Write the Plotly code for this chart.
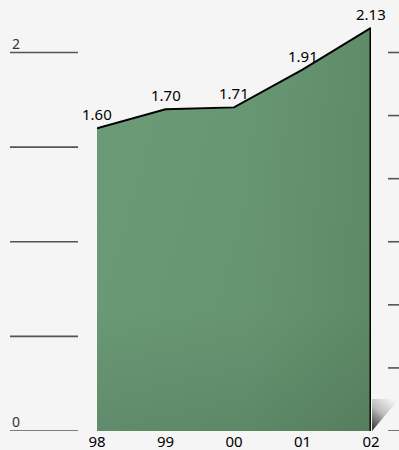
import base64
import plotly.graph_objects as go

# Series
years = ["98", "99", "00", "01", "02"]
values = [1.60, 1.70, 1.71, 1.91, 2.13]

# Left guide lines (value axis) and their labels
left_grid = [0, 0.5, 1.0, 1.5, 2.0]
left_labels = {0: "0", 2.0: "2"}
# Right-hand tick marks
right_ticks = [0, 1 / 3, 2 / 3, 1.0, 4 / 3, 5 / 3, 2.0]

BG = "#f5f5f5"
W, H = 399, 450
M_L, M_R, M_T, M_B = 97, 28, 14, 19
PLOT_H = H - M_T - M_B
PX_PER_UNIT = 189.25
Y_MAX = PLOT_H / PX_PER_UNIT

xs = list(range(len(years)))

fig = go.Figure()

# Area body: horizontal shading
fig.add_trace(go.Scatter(
    x=xs, y=values, mode="lines", line=dict(width=0),
    fill="tozeroy",
    fillgradient=dict(type="horizontal", start=0, stop=len(years) - 1,
                      colorscale=[[0, "#6b9b77"], [0.55, "#689773"], [1, "#5f8b68"]]),
    hoverinfo="skip", showlegend=False, cliponaxis=False,
))
# Area body: darkening toward the bottom
fig.add_trace(go.Scatter(
    x=xs, y=values, mode="lines", line=dict(width=0),
    fill="tozeroy",
    fillgradient=dict(type="vertical", start=0, stop=max(values),
                      colorscale=[[0, "rgba(25,45,30,0.14)"], [0.3, "rgba(25,45,30,0.02)"],
                                  [1, "rgba(25,45,30,0)"]]),
    hoverinfo="skip", showlegend=False, cliponaxis=False,
))
# Top outline
fig.add_trace(go.Scatter(
    x=xs, y=values, mode="lines", line=dict(color="#000", width=2),
    hoverinfo="skip", showlegend=False, cliponaxis=False,
))
# Right edge of the area
fig.add_trace(go.Scatter(
    x=[xs[-1], xs[-1]], y=[values[-1], 0], mode="lines",
    line=dict(color="#000", width=3),
    hoverinfo="skip", showlegend=False, cliponaxis=False,
))

# Value labels
for x, v in zip(xs, values):
    fig.add_annotation(x=x, y=v, text=f"{v:.2f}", showarrow=False,
                       yanchor="bottom", yshift=2,
                       font=dict(family="Noto Sans", size=15, color="#000"))

# Left guide lines
pw = W - M_L - M_R
x0_left = (10 - M_L) / pw
x1_left = (78 - M_L) / pw
for g in left_grid:
    fig.add_shape(type="line", xref="paper", yref="y", x0=x0_left, x1=x1_left,
                  y0=g, y1=g, line=dict(color="#555", width=1.6), layer="above")
    if g in left_labels:
        fig.add_annotation(xref="paper", yref="y", x=x0_left, y=g, text=left_labels[g],
                           showarrow=False, xanchor="left", yanchor="bottom", yshift=-2,
                           font=dict(family="Noto Sans", size=14, color="#333"))

# Right tick marks
x0_right = (388 - M_L) / pw
x1_right = (399 - M_L) / pw
for t in right_ticks:
    fig.add_shape(type="line", xref="paper", yref="y", x0=x0_right, x1=x1_right,
                  y0=t, y1=t, line=dict(color="#555", width=1.6), layer="above")

# Small drop shadow at the lower right corner
svg = (
    "<svg xmlns='http://www.w3.org/2000/svg' width='27' height='32' viewBox='0 0 27 32'>"
    "<defs><linearGradient id='g' x1='0' y1='1' x2='0.7' y2='0'>"
    "<stop offset='0' stop-color='#2a2a2a'/><stop offset='0.55' stop-color='#bdbdbd'/>"
    "<stop offset='1' stop-color='#f2f2f2'/></linearGradient></defs>"
    "<polygon points='0,0 27,0 0,32' fill='url(#g)'/></svg>"
)
src = "data:image/svg+xml;base64," + base64.b64encode(svg.encode()).decode()
fig.add_layout_image(dict(
    source=src, xref="paper", yref="paper",
    x=(372 - M_L) / pw, y=(431 - 399) / PLOT_H,
    sizex=27 / pw, sizey=32 / PLOT_H, sizing="stretch",
    xanchor="left", yanchor="top", layer="below",
))

fig.update_layout(
    width=W, height=H,
    margin=dict(l=M_L, r=M_R, t=M_T, b=M_B, pad=0, autoexpand=False),
    paper_bgcolor=BG, plot_bgcolor="rgba(0,0,0,0)",
    showlegend=False,
    xaxis=dict(range=[0, len(years) - 1], tickvals=xs, ticktext=years,
               showgrid=False, zeroline=False, showline=False, ticks="",
               automargin=False,
               tickfont=dict(family="Noto Sans", size=15, color="#000"),
               fixedrange=True),
    yaxis=dict(range=[0, Y_MAX], visible=False, showgrid=False, zeroline=False,
               automargin=False, fixedrange=True),
)

fig.write_html("out.html", config={"displayModeBar": False})
